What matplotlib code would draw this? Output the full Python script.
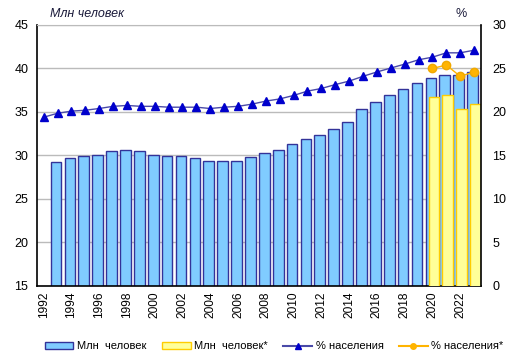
import numpy as np
import matplotlib
matplotlib.use("Agg")
import matplotlib.pyplot as plt
from matplotlib.patches import Patch
from matplotlib.lines import Line2D

plt.rcParams['font.family'] = ['Liberation Sans', 'DejaVu Sans']

years = list(range(1992, 2024))
nan = np.nan
mln = [nan, 29.3, 29.7, 29.9, 30.1, 30.5, 30.6, 30.5, 30.1, 29.9, 29.9, 29.7,
       29.4, 29.4, 29.4, 29.8, 30.3, 30.6, 31.3, 31.9, 32.4, 33.1, 33.8, 35.3,
       36.1, 36.9, 37.6, 38.3, 38.9, 39.3, 39.2, 39.6]
mln_star = [nan] * 28 + [36.7, 37.0, 35.3, 35.9]
pct = [19.4, 19.85, 20.1, 20.2, 20.4, 20.65, 20.75, 20.65, 20.65, 20.55, 20.55,
       20.55, 20.4, 20.55, 20.65, 20.9, 21.25, 21.5, 21.9, 22.4, 22.7, 23.15,
       23.55, 24.1, 24.6, 25.05, 25.5, 26.0, 26.3, 26.8, 26.8, 27.1]
pct_star = [nan] * 28 + [25.0, 25.4, 24.1, 24.6]
tick_years = list(range(1992, 2023, 2))

blue_fill = '#80CCFF'
blue_edge = '#333399'
yel_fill = '#FFFF99'
yel_edge = '#FFCC00'
tri_line = '#4A4AA8'
tri_mark = '#0000CC'
orange = '#FFB400'

fig = plt.figure(figsize=(5.17, 3.6), dpi=100)
ax = fig.add_axes([0.071, 0.2056, 0.8594, 0.725])
x = np.arange(len(years))
w = 0.77
off = 0.11
ax.bar(x - off, mln, width=w, color=blue_fill, edgecolor=blue_edge, linewidth=1.0, zorder=2)
ax.bar(x + off, mln_star, width=w, color=yel_fill, edgecolor=yel_edge, linewidth=1.0, zorder=3)
ax.set_ylim(15, 45)
ax.set_yticks(range(15, 46, 5))
ax.set_xlim(-0.5, len(years) - 0.5)
ax.yaxis.grid(True, color='#BBBBBB', linewidth=1.0, zorder=0)
ax.set_axisbelow(True)
ax.set_xticks([years.index(y) for y in tick_years])
ax.set_xticklabels([str(y) for y in tick_years], rotation=90, fontsize=8.6)
ax.tick_params(axis='x', length=0, pad=4)
ax.tick_params(axis='y', length=0, labelsize=9, pad=6)
for s in ['left', 'bottom']:
    ax.spines[s].set_color('black')
    ax.spines[s].set_linewidth(1.2)
ax.spines['top'].set_color('#BBBBBB')
ax.spines['right'].set_visible(False)

ax2 = ax.twinx()
ax2.plot(x, pct, color=tri_line, linewidth=1.0, marker='^', markersize=6,
         markerfacecolor=tri_mark, markeredgecolor=tri_mark, zorder=4)
ax2.plot(x, pct_star, color=orange, linewidth=1.0, marker='o', markersize=6,
         markerfacecolor=orange, markeredgecolor='#F0A800', zorder=4)
ax2.set_ylim(0, 30)
ax2.set_yticks(range(0, 31, 5))
ax2.tick_params(axis='y', length=0, labelsize=9, pad=8)
ax2.spines['right'].set_color('black')
ax2.spines['right'].set_linewidth(1.2)
ax2.spines['top'].set_visible(False)
ax2.spines['left'].set_visible(False)
ax2.spines['bottom'].set_visible(False)

fig.text(0.097, 0.962, 'Млн человек', fontsize=9, style='italic', color='#1a1a3a',
         ha='left', va='center')
fig.text(0.882, 0.962, '%', fontsize=9, color='#1a1a3a', ha='left', va='center')

handles = [
    Patch(facecolor=blue_fill, edgecolor=blue_edge, linewidth=1.0),
    Patch(facecolor=yel_fill, edgecolor=yel_edge, linewidth=1.0),
    Line2D([0], [0], color=tri_line, marker='^', markersize=4,
           markerfacecolor=tri_mark, markeredgecolor=tri_mark),
    Line2D([0], [0], color=orange, marker='o', markersize=4,
           markerfacecolor=orange, markeredgecolor=orange),
]
labels = ['Млн  человек', 'Млн  человек*', '% населения', '% населения*']
fig.legend(handles, labels, loc='center', bbox_to_anchor=(0.53, 0.038), ncol=4,
           frameon=False, fontsize=8, handlelength=2.6, handleheight=0.6,
           handletextpad=0.3, columnspacing=1.4)

fig.savefig('out.png', dpi=100)
